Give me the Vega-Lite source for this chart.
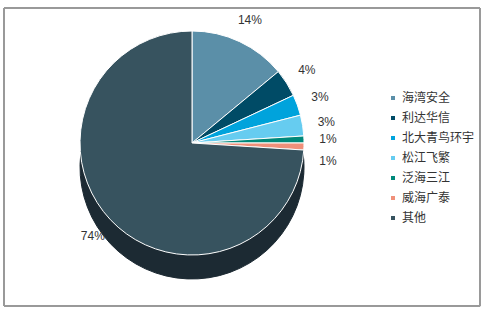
{
  "$schema": "https://vega.github.io/schema/vega-lite/v6.json",
  "width": 484,
  "height": 314,
  "autosize": {"type": "fit", "contains": "padding"},
  "padding": {"left": 3, "top": 7, "right": 3, "bottom": 7},
  "background": "white",
  "data": {
    "values": [
      {"name": "海湾安全", "value": 14, "label": "14%", "idx": 1},
      {"name": "利达华信", "value": 4, "label": "4%", "idx": 2},
      {"name": "北大青鸟环宇", "value": 3, "label": "3%", "idx": 3},
      {"name": "松江飞繁", "value": 3, "label": "3%", "idx": 4},
      {"name": "泛海三江", "value": 1, "label": "1%", "idx": 5},
      {"name": "威海广泰", "value": 1, "label": "1%", "idx": 6},
      {"name": "其他", "value": 74, "label": "74%", "idx": 7}
    ]
  },
  "layer": [
    {
      "mark": {"type": "rect", "fill": null, "stroke": "#999999", "strokeWidth": 1},
      "encoding": {
        "x": {"value": 0},
        "x2": {"value": "width"},
        "y": {"value": 0},
        "y2": {"value": "height"}
      }
    },
    {
      "mark": {"type": "arc", "outerRadius": 112, "xOffset": -50, "yOffset": 10, "stroke": "#1c2a33", "strokeWidth": 1},
      "encoding": {
        "theta": {"field": "value", "type": "quantitative", "stack": true},
        "order": {"field": "idx", "type": "quantitative"},
        "color": {"value": "#1c2a33"}
      }
    },
    {
      "mark": {"type": "arc", "outerRadius": 112, "xOffset": -50, "yOffset": -14, "stroke": "white", "strokeWidth": 1},
      "encoding": {
        "theta": {"field": "value", "type": "quantitative", "stack": true},
        "order": {"field": "idx", "type": "quantitative"},
        "color": {
          "field": "name",
          "type": "nominal",
          "scale": {
            "domain": ["海湾安全", "利达华信", "北大青鸟环宇", "松江飞繁", "泛海三江", "威海广泰", "其他"],
            "range": ["#5b8fa8", "#004b66", "#00a3dc", "#66ccf0", "#00887a", "#f0907a", "#37535f"]
          },
          "legend": {
            "title": null,
            "orient": "none",
            "legendX": 383,
            "legendY": 84,
            "symbolType": "square",
            "symbolSize": 16,
            "symbolStrokeWidth": 0,
            "labelFont": "Noto Sans CJK SC",
            "labelFontSize": 12,
            "labelColor": "#333333",
            "labelOffset": 3,
            "rowPadding": 8
          }
        }
      }
    },
    {
      "mark": {"type": "text", "radius": 136, "xOffset": -50, "yOffset": -14, "font": "Liberation Sans", "fontSize": 12},
      "encoding": {
        "theta": {"field": "value", "type": "quantitative", "stack": true},
        "order": {"field": "idx", "type": "quantitative"},
        "text": {"condition": {"test": "datum.idx == 6", "value": ""}, "field": "label"},
        "color": {"value": "#333333"}
      }
    },
    {
      "mark": {"type": "text", "radius": 136, "xOffset": -50, "yOffset": -14, "dy": 14, "font": "Liberation Sans", "fontSize": 12},
      "encoding": {
        "theta": {"field": "value", "type": "quantitative", "stack": true},
        "order": {"field": "idx", "type": "quantitative"},
        "text": {"condition": {"test": "datum.idx != 6", "value": ""}, "field": "label"},
        "color": {"value": "#333333"}
      }
    }
  ]
}
